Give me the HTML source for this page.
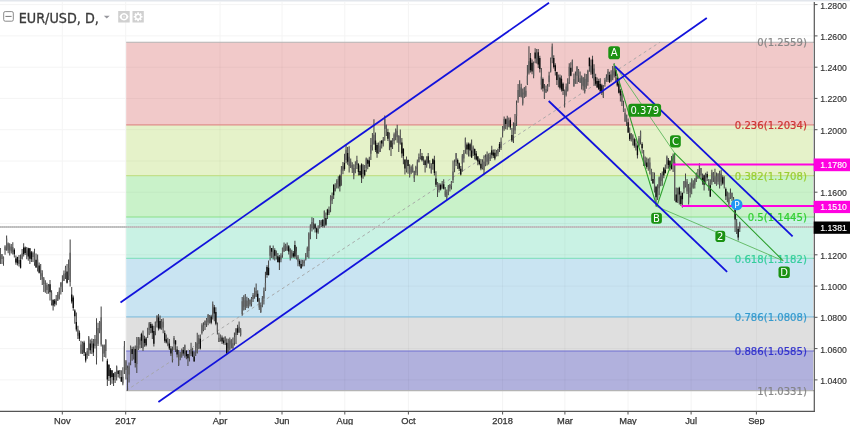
<!DOCTYPE html><html><head><meta charset="utf-8"><title>EUR/USD, D</title>
<style>html,body{margin:0;padding:0;background:#fff}body{width:850px;height:425px;overflow:hidden}svg{display:block;will-change:transform;opacity:.999;filter:blur(.38px)}text{font-family:"Liberation Sans",Arial,sans-serif}.dv{font-family:"DejaVu Sans",Verdana,sans-serif}.dc{font-family:"DejaVu Sans Condensed","DejaVu Sans",sans-serif}</style></head><body>
<svg width="850" height="425" viewBox="0 0 850 425">
<rect width="850" height="425" fill="#fff"/>
<rect x="0" y="0" width="850" height="1.5" fill="#e2e6ec"/>
<g stroke="#f4f4f4" stroke-width="1">
<line x1="62.3" y1="2" x2="62.3" y2="411.3"/>
<line x1="125.7" y1="2" x2="125.7" y2="411.3"/>
<line x1="220" y1="2" x2="220" y2="411.3"/>
<line x1="282" y1="2" x2="282" y2="411.3"/>
<line x1="344.8" y1="2" x2="344.8" y2="411.3"/>
<line x1="408.4" y1="2" x2="408.4" y2="411.3"/>
<line x1="502.6" y1="2" x2="502.6" y2="411.3"/>
<line x1="564.9" y1="2" x2="564.9" y2="411.3"/>
<line x1="628" y1="2" x2="628" y2="411.3"/>
<line x1="691.1" y1="2" x2="691.1" y2="411.3"/>
<line x1="756.4" y1="2" x2="756.4" y2="411.3"/>
<line x1="0" y1="4.6" x2="814.3" y2="4.6"/>
<line x1="0" y1="35.9" x2="814.3" y2="35.9"/>
<line x1="0" y1="67.2" x2="814.3" y2="67.2"/>
<line x1="0" y1="98.4" x2="814.3" y2="98.4"/>
<line x1="0" y1="129.7" x2="814.3" y2="129.7"/>
<line x1="0" y1="161.0" x2="814.3" y2="161.0"/>
<line x1="0" y1="192.2" x2="814.3" y2="192.2"/>
<line x1="0" y1="223.5" x2="814.3" y2="223.5"/>
<line x1="0" y1="254.8" x2="814.3" y2="254.8"/>
<line x1="0" y1="286.1" x2="814.3" y2="286.1"/>
<line x1="0" y1="317.3" x2="814.3" y2="317.3"/>
<line x1="0" y1="348.6" x2="814.3" y2="348.6"/>
<line x1="0" y1="379.9" x2="814.3" y2="379.9"/>
</g>
<rect x="126.2" y="42.2" width="686.8" height="82.6" fill="#f1c9c9"/>
<rect x="126.2" y="124.8" width="686.8" height="50.8" fill="#e5f2c9"/>
<rect x="126.2" y="175.6" width="686.8" height="41.4" fill="#c9f2c9"/>
<rect x="126.2" y="217.0" width="686.8" height="41.3" fill="#c9f2e4"/>
<rect x="126.2" y="258.3" width="686.8" height="58.6" fill="#c9e4f2"/>
<rect x="126.2" y="316.9" width="686.8" height="34.1" fill="#dfdfdf"/>
<rect x="126.2" y="351.0" width="686.8" height="39.6" fill="#b1b1dd"/>
<g stroke="#000" stroke-opacity="0.035" stroke-width="1">
<line x1="220" y1="42.2" x2="220" y2="390.6"/>
<line x1="282" y1="42.2" x2="282" y2="390.6"/>
<line x1="344.8" y1="42.2" x2="344.8" y2="390.6"/>
<line x1="408.4" y1="42.2" x2="408.4" y2="390.6"/>
<line x1="502.6" y1="42.2" x2="502.6" y2="390.6"/>
<line x1="564.9" y1="42.2" x2="564.9" y2="390.6"/>
<line x1="628" y1="42.2" x2="628" y2="390.6"/>
<line x1="691.1" y1="42.2" x2="691.1" y2="390.6"/>
<line x1="756.4" y1="42.2" x2="756.4" y2="390.6"/>
<line x1="126.2" y1="67.2" x2="813.0" y2="67.2"/>
<line x1="126.2" y1="98.4" x2="813.0" y2="98.4"/>
<line x1="126.2" y1="129.7" x2="813.0" y2="129.7"/>
<line x1="126.2" y1="161.0" x2="813.0" y2="161.0"/>
<line x1="126.2" y1="192.2" x2="813.0" y2="192.2"/>
<line x1="126.2" y1="223.5" x2="813.0" y2="223.5"/>
<line x1="126.2" y1="254.8" x2="813.0" y2="254.8"/>
<line x1="126.2" y1="286.1" x2="813.0" y2="286.1"/>
<line x1="126.2" y1="317.3" x2="813.0" y2="317.3"/>
<line x1="126.2" y1="348.6" x2="813.0" y2="348.6"/>
<line x1="126.2" y1="379.9" x2="813.0" y2="379.9"/>
</g>
<line x1="126.2" y1="42.2" x2="814.3" y2="42.2" stroke="#b4b4b4" stroke-width="1.15"/>
<line x1="126.2" y1="124.8" x2="814.3" y2="124.8" stroke="#e08a8a" stroke-width="1.15"/>
<line x1="126.2" y1="175.6" x2="814.3" y2="175.6" stroke="#c3e08a" stroke-width="1.15"/>
<line x1="126.2" y1="217.0" x2="814.3" y2="217.0" stroke="#8ae08a" stroke-width="1.15"/>
<line x1="126.2" y1="258.3" x2="814.3" y2="258.3" stroke="#8ae0c3" stroke-width="1.15"/>
<line x1="126.2" y1="316.9" x2="814.3" y2="316.9" stroke="#8ac3e0" stroke-width="1.15"/>
<line x1="126.2" y1="351.0" x2="814.3" y2="351.0" stroke="#6e6ed2" stroke-width="1.15"/>
<line x1="126.2" y1="390.6" x2="814.3" y2="390.6" stroke="#b4b4b4" stroke-width="1.15"/>
<line x1="126.2" y1="390.5" x2="660" y2="42.2" stroke="#a4a4a4" stroke-width="0.9" stroke-dasharray="3,3"/>
<line x1="0" y1="227" x2="814.3" y2="227" stroke="#c6c6c6" stroke-width="1.8"/>
<line x1="0" y1="227" x2="814.3" y2="227" stroke="#b2b2b2" stroke-width="1.2" stroke-dasharray="1,1"/>
<text x="806.9" y="46.4" font-size="10.1" class="dv" fill="#808080" stroke="#808080" stroke-width="0.22" text-anchor="end" opacity="0.92">0(1.2559)</text>
<text x="806.9" y="129.0" font-size="10.1" class="dv" fill="#cc2828" stroke="#cc2828" stroke-width="0.22" text-anchor="end" opacity="0.92">0.236(1.2034)</text>
<text x="806.9" y="179.8" font-size="10.1" class="dv" fill="#95cc28" stroke="#95cc28" stroke-width="0.22" text-anchor="end" opacity="0.92">0.382(1.1708)</text>
<text x="806.9" y="221.2" font-size="10.1" class="dv" fill="#28cc28" stroke="#28cc28" stroke-width="0.22" text-anchor="end" opacity="0.92">0.5(1.1445)</text>
<text x="806.9" y="262.5" font-size="10.1" class="dv" fill="#28cc95" stroke="#28cc95" stroke-width="0.22" text-anchor="end" opacity="0.92">0.618(1.1182)</text>
<text x="806.9" y="321.1" font-size="10.1" class="dv" fill="#2895cc" stroke="#2895cc" stroke-width="0.22" text-anchor="end" opacity="0.92">0.786(1.0808)</text>
<text x="806.9" y="355.2" font-size="10.1" class="dv" fill="#2828cc" stroke="#2828cc" stroke-width="0.22" text-anchor="end" opacity="0.92">0.886(1.0585)</text>
<text x="806.9" y="394.8" font-size="10.1" class="dv" fill="#808080" stroke="#808080" stroke-width="0.22" text-anchor="end" opacity="0.92">1(1.0331)</text>
<g id="candles">
<path d="M0.40 247.9V263.9M1.95 254.0V264.0M3.50 256.4V265.8M5.05 245.2V254.7M6.60 235.6V250.7M8.15 242.4V253.2M9.70 243.2V255.4M11.25 244.1V253.4M12.80 242.2V254.5M14.35 248.3V257.4M15.90 255.4V264.8M17.45 256.7V265.6M19.00 255.1V266.5M20.55 254.5V268.6M22.10 249.1V259.4M23.65 243.2V256.4M25.20 246.6V255.1M26.75 247.0V259.2M28.30 247.7V260.8M29.85 247.9V263.9M31.40 251.1V261.9M32.95 251.5V262.1M34.50 248.8V265.8M36.05 253.5V267.8M37.60 254.5V271.4M39.15 262.5V273.4M40.70 263.9V279.9M42.25 270.3V285.0M43.80 277.0V292.0M45.35 280.3V292.8M46.90 282.7V294.0M48.45 284.1V293.8M50.00 279.9V300.6M51.55 290.3V305.5M53.10 299.6V310.5M54.65 299.1V306.4M56.20 295.0V305.3M57.75 292.1V300.9M59.30 287.4V299.6M60.85 282.2V294.4M62.40 275.2V292.1M63.95 270.5V281.0M65.50 265.8V278.9M67.05 263.9V283.6M68.60 259.5V280.0M70.15 239.4V286.5M71.70 287.0V303.4M73.25 295.6V310.7M74.80 309.3V323.7M76.35 312.6V331.4M77.90 325.8V339.0M79.45 330.4V341.0M81.00 340.8V354.0M82.55 341.6V354.1M84.10 340.8V355.9M85.65 352.0V362.5M87.20 348.0V358.8M88.75 336.0V355.9M90.30 339.6V353.8M91.85 338.6V354.0M93.40 339.0V356.0M94.95 335.0V348.4M96.50 318.2V364.4M98.05 322.7V346.1M99.60 321.0V333.3M101.15 306.6V346.5M102.70 344.6V361.5M104.25 344.6V357.1M105.80 339.0V357.8M107.35 358.8V386.0M108.90 364.1V380.9M110.45 368.0V385.0M112.00 370.2V383.7M113.55 373.0V386.0M115.10 371.8V382.9M116.65 365.4V380.5M118.20 370.2V377.5M119.75 370.0V378.6M121.30 370.2V382.0M122.85 367.3V385.2M124.40 341.0V374.0M125.95 359.9V379.6M127.50 365.4V390.8M129.05 362.6V382.4M130.60 345.5V365.3M132.15 346.7V360.7M133.70 346.5V359.6M135.25 345.6V367.6M136.80 337.0V373.0M138.35 337.0V350.0M139.90 337.3V348.4M141.45 332.7V348.0M143.00 330.5V351.0M144.55 335.8V346.7M146.10 337.0V346.5M147.65 327.8V338.0M149.20 322.0V335.0M150.75 322.0V333.3M152.30 323.8V339.1M153.85 325.8V346.5M155.40 321.5V335.3M156.95 315.4V327.6M158.50 314.0V330.5M160.05 315.6V329.6M161.60 319.0V329.8M163.15 318.2V333.3M164.70 330.5V342.7M166.25 334.5V343.6M167.80 337.7V346.3M169.35 339.0V350.0M170.90 346.1V356.0M172.45 346.5V362.5M174.00 336.0V350.0M175.55 340.0V351.9M177.10 346.2V357.3M178.65 350.0V366.0M180.20 352.0V360.2M181.75 348.4V357.8M183.30 347.0V355.7M184.85 344.6V357.8M186.40 350.0V359.2M187.95 354.0V366.0M189.50 350.0V361.4M191.05 342.7V355.9M192.60 348.0V357.0M194.15 351.5V361.5M195.70 342.1V356.0M197.25 332.7V353.4M198.80 334.8V349.2M200.35 334.6V349.6M201.90 323.3V334.6M203.45 322.3V331.3M205.00 320.5V330.0M206.55 318.1V327.1M208.10 313.9V325.2M209.65 315.0V323.5M211.20 314.8V324.2M212.75 301.6V319.5M214.30 304.9V321.3M215.85 307.3V325.2M217.40 322.4V334.6M218.95 332.7V342.1M220.50 334.6V341.6M222.05 335.5V344.0M223.60 337.4V344.4M225.15 336.5V345.0M226.70 338.4V354.4M228.25 338.7V352.4M229.80 337.4V350.6M231.35 339.3V348.5M232.90 337.4V348.7M234.45 332.4V345.4M236.00 328.0V344.0M237.55 324.8V335.0M239.10 321.4V332.7M240.65 328.0V336.5M242.20 297.0V315.8M243.75 295.2V310.4M245.30 294.0V310.0M246.85 296.7V308.0M248.40 297.9V308.2M249.95 299.3V306.5M251.50 297.0V306.4M253.05 293.0V301.9M254.60 287.5V298.8M256.15 283.4V297.0M257.70 290.2V301.9M259.25 297.9V310.0M260.80 302.6V313.0M262.35 296.1V307.2M263.90 287.5V304.5M265.45 271.8V291.0M267.00 265.2V277.7M268.55 260.5V275.6M270.10 245.5V260.5M271.65 247.9V257.9M273.20 245.5V259.6M274.75 248.3V260.5M276.30 250.6V259.6M277.85 253.0V262.4M279.40 254.9V270.0M280.95 253.2V262.3M282.50 247.4V257.7M284.05 242.6V252.0M285.60 243.7V251.1M287.15 242.6V251.1M288.70 244.9V254.6M290.25 248.3V260.5M291.80 249.8V258.2M293.35 251.1V257.7M294.90 240.8V258.6M296.45 246.7V259.5M298.00 254.9V266.2M299.55 259.3V266.6M301.10 259.6V269.0M302.65 259.8V266.4M304.20 259.6V266.2M305.75 253.0V260.5M307.30 246.5V257.3M308.85 232.3V258.6M310.40 224.3V239.3M311.95 217.2V231.4M313.50 218.2V229.5M315.05 223.3V232.6M316.60 227.6V238.9M318.15 225.2V233.7M319.70 220.0V228.5M321.25 220.0V227.0M322.80 219.1V227.6M324.35 210.6V227.6M325.90 212.4V226.0M327.45 208.8V219.1M329.00 206.5V214.9M330.55 195.2V212.2M332.10 192.5V204.0M333.65 184.0V199.0M335.20 183.3V191.6M336.75 179.2V188.6M338.30 176.2V188.4M339.85 174.5V191.5M341.40 166.0V185.8M342.95 161.9V174.2M344.50 153.8V170.8M346.05 144.4V163.2M347.60 147.1V164.7M349.15 146.3V172.6M350.70 158.5V168.0M352.25 162.3V172.9M353.80 164.2V179.2M355.35 161.3V173.3M356.90 155.7V168.9M358.45 163.2V175.5M360.00 165.3V175.3M361.55 163.2V183.0M363.10 164.3V178.7M364.65 165.0V176.4M366.20 157.6V171.7M367.75 158.6V169.3M369.30 156.8V167.0M370.85 138.0V160.0M372.40 133.1V150.6M373.95 119.2V144.6M375.50 132.4V152.1M377.05 142.7V157.8M378.60 142.5V153.8M380.15 140.8V152.1M381.70 140.3V148.6M383.25 137.0V146.5M384.80 115.4V140.8M386.35 124.8V136.1M387.90 128.8V141.0M389.45 132.4V150.2M391.00 139.9V155.9M392.55 138.2V148.9M394.10 132.4V144.6M395.65 128.5V140.2M397.20 124.8V142.7M398.75 135.2V152.1M400.30 129.5V144.6M401.85 138.0V157.8M403.40 148.3V164.2M404.95 159.5V174.5M406.50 156.6V172.6M408.05 159.6V173.7M409.60 164.2V177.4M411.15 165.4V174.2M412.70 164.2V172.6M414.25 170.8V182.0M415.80 165.7V175.2M417.35 159.5V175.5M418.90 153.5V162.3M420.45 149.0V159.5M422.00 152.9V161.4M423.55 156.3V165.1M425.10 159.5V172.6M426.65 156.2V167.8M428.20 152.9V164.0M429.75 160.2V168.4M431.30 163.2V173.6M432.85 158.5V169.8M434.40 155.7V175.5M435.95 171.2V187.0M437.50 182.0V197.0M439.05 183.0V192.4M440.60 183.5V190.4M442.15 180.9V188.7M443.70 179.2V189.6M445.25 186.9V196.9M446.80 189.6V200.0M448.35 184.9V195.2M449.90 184.0V191.4M451.45 181.0V189.6M453.00 160.4V183.0M454.55 159.5V172.3M456.10 152.9V166.0M457.65 158.5V168.9M459.20 162.6V170.9M460.75 166.0V175.5M462.30 154.0V171.7M463.85 150.1V162.4M465.40 137.4V153.8M466.95 142.6V154.4M468.50 142.5V156.5M470.05 142.8V156.6M471.60 139.4V158.0M473.15 145.4V155.9M474.70 148.4V159.6M476.25 150.9V160.6M477.80 155.9V165.3M479.35 158.5V165.3M480.90 159.0V170.3M482.45 159.2V169.6M484.00 155.2V174.0M485.55 154.2V166.3M487.10 151.5V165.6M488.65 153.4V164.6M490.20 152.7V161.0M491.75 145.8V158.4M493.30 149.5V157.9M494.85 149.6V160.3M496.40 149.9V156.6M497.95 148.6V156.2M499.50 141.9V151.9M501.05 137.4V150.0M502.60 126.0V137.4M504.15 116.6V130.8M505.70 118.5V129.3M507.25 115.7V129.8M508.80 117.5V127.3M510.35 117.6V129.8M511.90 128.0V142.0M513.45 122.3V143.0M515.00 113.9V134.0M516.55 100.6V126.0M518.10 84.0V102.8M519.65 80.2V97.1M521.20 83.7V97.6M522.75 88.6V105.6M524.30 86.9V97.9M525.85 85.8V97.1M527.40 65.1V84.9M528.95 46.3V74.5M530.50 52.9V72.6M532.05 59.6V74.3M533.60 61.4V78.3M535.15 48.2V63.2M536.70 49.0V63.5M538.25 49.0V68.0M539.80 55.7V72.6M541.35 68.0V89.6M542.90 77.6V91.4M544.45 84.0V99.0M546.00 85.5V92.9M547.55 84.0V91.5M549.10 71.7V86.8M550.65 57.6V72.6M552.20 43.5V63.2M553.75 55.2V68.4M555.30 63.2V75.5M556.85 71.7V84.9M558.40 74.7V87.2M559.95 74.5V89.6M561.50 75.5V91.5M563.05 82.6V94.9M564.60 89.6V107.5M566.15 83.6V96.4M567.70 78.3V91.5M569.25 63.2V84.0M570.80 62.3V76.2M572.35 59.5V71.7M573.90 73.6V86.8M575.45 71.5V83.8M577.00 66.0V84.0M578.55 68.9V82.0M580.10 71.4V83.0M581.65 75.5V89.6M583.20 77.0V90.6M584.75 73.6V93.4M586.30 74.0V88.8M587.85 69.8V85.8M589.40 57.6V71.7M590.95 59.6V74.7M592.50 55.7V78.3M594.05 64.2V85.8M595.60 73.8V85.7M597.15 77.4V87.7M598.70 78.7V89.9M600.25 78.3V91.5M601.80 83.8V95.0M603.35 84.9V98.0M604.90 78.3V86.8M606.45 74.2V81.8M608.00 68.9V82.0M609.55 71.7V83.0M611.10 70.3V81.7M612.65 66.0V80.2M614.20 63.2V77.4M615.75 68.0V82.0M617.30 74.2V86.7M618.85 79.2V93.4M620.40 89.1V101.6M621.95 91.0V106.0M623.50 100.8V112.0M625.05 108.5V122.0M626.60 114.7V126.0M628.15 118.5V133.0M629.70 127.6V141.0M631.25 133.0V141.4M632.80 134.2V145.5M634.35 137.7V147.7M635.90 139.0V150.5M637.45 144.6V158.5M639.00 136.0V146.5M640.55 130.5V144.6M642.10 142.2V153.6M643.65 150.0V166.0M645.20 156.6V165.8M646.75 157.5V168.8M648.30 158.4V170.7M649.85 157.5V174.5M651.40 168.8V181.0M652.95 172.0V183.9M654.50 172.6V192.4M656.05 185.8V206.5M657.60 184.3V199.9M659.15 176.4V195.2M660.70 173.1V186.3M662.25 171.6V185.8M663.80 167.0V178.2M665.35 164.4V173.3M666.90 155.6V168.8M668.45 158.0V168.8M670.00 160.4V170.7M671.55 156.1V169.3M673.10 153.5V172.0M674.65 152.8V200.8M676.20 187.6V202.7M677.75 187.7V202.9M679.30 186.7V204.6M680.85 191.2V205.7M682.40 192.4V207.4M683.95 181.0V193.3M685.50 173.5V187.6M687.05 179.0V193.9M688.60 183.9V204.6M690.15 182.5V197.4M691.70 178.2V194.2M693.25 180.3V188.8M694.80 178.2V188.6M696.35 172.6V182.0M697.90 169.0V178.7M699.45 163.2V178.2M701.00 167.9V179.2M702.55 173.4V184.7M704.10 174.5V190.5M705.65 172.8V184.3M707.20 171.6V181.0M708.75 179.0V190.8M710.30 179.2V197.0M711.85 169.8V184.8M713.40 172.1V182.0M714.95 168.8V183.9M716.50 172.6V185.8M718.05 173.1V184.5M719.60 170.7V188.6M721.15 169.8V185.8M722.70 175.3V184.7M724.25 176.4V188.6M725.80 187.6V199.9M727.35 191.4V202.2M728.90 192.4V206.5M730.45 188.6V198.9M732.00 192.5V201.0M733.55 197.0V206.5M735.10 207.6V232.0M736.65 219.0V234.0M738.20 226.5V240.6M739.75 221.8V232.0" stroke="#484848" stroke-width="1.05" fill="none"/>
<path d="M0.40 249.2v7.4M1.95 254.3v4.8M3.50 256.7v4.7M5.05 246.5v3.8M6.60 238.4v10.3M8.15 243.5v7.0M9.70 245.5v4.8M11.25 246.8v4.4M12.80 247.0v5.2M19.00 259.9v4.2M22.10 253.4v5.3M26.75 250.6v4.4M32.95 252.7v4.3M34.50 253.6v8.8M37.60 259.5v9.6M40.70 270.1v6.2M42.25 273.3v6.0M43.80 278.5v5.3M45.35 282.9v8.2M46.90 284.9v5.0M48.45 286.4v5.0M51.55 292.8v10.4M56.20 298.7v5.5M57.75 294.4v6.1M59.30 290.7v7.8M60.85 282.4v4.4M62.40 281.7v7.4M63.95 273.5v7.3M65.50 267.5v5.6M68.60 267.9v7.8M70.15 252.7v29.4M77.90 329.6v6.2M81.00 344.6v8.6M82.55 343.1v6.9M87.20 351.0v3.9M88.75 337.3v12.5M91.85 341.0v6.7M94.95 339.1v6.8M96.50 333.3v24.5M98.05 327.9v15.9M99.60 322.0v8.4M101.15 317.3v27.1M102.70 345.2v8.5M104.25 345.2v8.3M105.80 340.1v10.9M115.10 372.1v4.9M116.65 366.5v6.7M119.75 370.3v5.1M122.85 376.8v6.8M124.40 346.2v21.5M125.95 361.3v8.8M127.50 367.9v9.9M129.05 366.2v8.3M130.60 347.7v12.2M133.70 347.6v7.1M136.80 346.3v17.6M138.35 338.4v9.0M139.90 339.2v5.5M143.00 335.2v13.4M147.65 330.3v3.6M149.20 323.2v6.8M155.40 322.1v9.6M156.95 315.6v7.0M161.60 322.1v6.4M163.15 321.5v6.0M167.80 341.7v3.2M172.45 351.0v9.1M174.00 338.1v5.6M178.65 358.7v6.3M180.20 354.4v2.9M181.75 349.7v6.5M184.85 345.2v9.0M189.50 351.9v5.4M191.05 349.1v4.6M195.70 343.0v5.1M197.25 343.4v9.3M198.80 338.0v6.0M201.90 325.3v7.7M203.45 325.6v4.5M205.00 320.8v4.3M206.55 319.5v4.2M208.10 314.8v7.8M209.65 315.7v4.2M212.75 304.0v12.5M217.40 324.5v6.5M218.95 337.7v4.2M220.50 335.1v4.6M225.15 336.5v4.7M228.25 343.0v5.5M229.80 340.5v9.0M231.35 339.4v5.0M232.90 343.3v4.9M234.45 337.0v5.7M236.00 328.7v6.2M239.10 326.7v5.8M240.65 329.4v5.6M242.20 301.2v12.9M243.75 297.8v8.9M245.30 300.2v9.3M246.85 300.6v5.6M248.40 300.7v6.5M249.95 299.9v4.6M251.50 298.1v5.8M253.05 295.1v3.9M254.60 288.0v7.7M256.15 291.0v5.8M259.25 299.2v8.2M260.80 305.1v7.0M262.35 298.0v5.3M263.90 290.8v7.6M265.45 283.0v7.6M270.10 245.7v10.0M273.20 251.4v6.2M276.30 251.9v4.1M280.95 255.4v4.0M282.50 248.0v7.0M284.05 245.6v5.7M285.60 245.2v3.4M287.15 246.3v3.6M290.25 249.3v8.5M291.80 251.3v5.1M296.45 251.6v6.2M298.00 256.5v4.9M302.65 261.8v4.3M304.20 260.8v2.4M305.75 254.4v5.2M307.30 247.9v5.5M308.85 233.2v17.9M310.40 225.4v7.2M311.95 222.0v6.2M313.50 218.3v4.8M318.15 228.7v3.5M319.70 221.4v3.8M321.25 221.6v3.3M324.35 210.7v7.2M329.00 209.7v3.2M330.55 196.4v9.0M332.10 195.9v4.5M335.20 188.1v3.0M336.75 181.1v6.3M338.30 179.0v5.2M341.40 169.6v10.5M342.95 166.3v4.5M346.05 149.8v10.2M349.15 156.7v9.4M350.70 161.3v5.9M352.25 165.0v4.2M353.80 168.0v7.6M355.35 165.0v7.3M356.90 159.9v4.9M363.10 165.2v8.9M366.20 158.6v9.5M370.85 145.1v8.6M372.40 137.7v9.5M373.95 134.7v9.8M378.60 148.4v4.1M380.15 145.5v6.5M383.25 139.4v4.8M384.80 118.9v10.1M386.35 124.8v4.0M389.45 133.6v9.2M392.55 138.2v4.7M394.10 134.3v6.7M395.65 129.6v7.1M397.20 130.8v6.5M398.75 135.8v7.3M400.30 136.0v8.2M406.50 162.4v8.2M409.60 168.7v7.8M411.15 167.1v5.5M412.70 167.6v4.8M414.25 170.9v7.4M415.80 166.9v5.8M417.35 161.5v7.4M418.90 157.1v5.2M420.45 151.6v6.8M423.55 161.3v3.3M426.65 161.3v4.2M429.75 162.9v5.2M431.30 166.5v6.8M437.50 182.2v7.5M439.05 184.4v5.6M442.15 183.8v3.6M445.25 191.3v4.2M446.80 192.0v5.4M448.35 186.6v5.4M449.90 184.9v3.3M451.45 181.4v4.5M453.00 171.5v8.5M454.55 162.2v6.1M456.10 153.3v8.7M462.30 155.5v8.2M463.85 153.3v5.1M465.40 138.3v9.1M473.15 147.2v6.4M482.45 161.9v6.2M484.00 161.6v8.6M485.55 157.3v7.2M487.10 154.7v7.0M488.65 157.2v5.5M490.20 154.8v4.0M496.40 152.5v2.8M497.95 149.0v4.7M501.05 141.8v6.3M502.60 127.4v5.0M504.15 119.0v9.6M507.25 118.5v8.1M508.80 120.8v4.7M513.45 126.6v9.2M515.00 123.3v7.1M516.55 104.9v11.1M518.10 90.0v9.4M519.65 88.4v8.1M521.20 87.3v9.3M522.75 92.5v10.9M524.30 88.1v6.3M525.85 90.8v4.9M527.40 75.8v8.0M528.95 61.2v11.5M533.60 64.6v11.1M536.70 52.7v7.6M541.35 76.6v8.1M544.45 90.5v7.8M546.00 88.9v3.5M547.55 85.9v3.9M549.10 75.5v6.4M550.65 63.3v8.2M552.20 46.4v12.6M558.40 74.7v5.7M564.60 90.3v11.0M566.15 86.4v8.6M567.70 82.1v8.4M569.25 66.7v9.2M572.35 60.4v4.4M573.90 79.0v7.3M575.45 75.3v8.3M577.00 66.9v8.9M578.55 70.0v5.6M580.10 78.2v4.6M581.65 76.1v9.2M583.20 78.0v8.2M584.75 79.0v12.3M586.30 78.5v8.4M587.85 71.1v10.8M590.95 65.6v6.9M594.05 68.5v11.9M603.35 88.5v8.7M604.90 80.3v3.8M606.45 78.2v2.7M608.00 71.5v8.6M611.10 74.4v6.2M612.65 71.1v8.7M614.20 67.4v8.0M621.95 93.7v8.2M623.50 107.9v4.1M625.05 113.1v7.7M626.60 114.8v6.0M631.25 133.7v5.8M632.80 135.4v4.7M635.90 143.3v4.3M639.00 138.2v7.2M640.55 131.6v7.1M643.65 154.5v10.7M645.20 160.5v5.3M648.30 158.9v7.6M649.85 162.5v6.7M651.40 169.8v5.3M654.50 178.7v12.9M657.60 191.2v7.3M659.15 177.6v10.7M660.70 174.0v7.1M662.25 174.9v6.3M666.90 156.8v7.7M673.10 154.9v8.7M674.65 161.9v30.8M677.75 191.8v9.4M683.95 181.3v7.4M685.50 179.8v6.6M687.05 181.4v10.0M688.60 194.0v8.6M690.15 187.5v5.2M691.70 179.1v8.5M693.25 183.5v3.9M694.80 178.4v6.4M696.35 174.1v6.4M697.90 175.0v3.5M699.45 164.1v6.2M701.00 168.0v7.2M705.65 175.5v6.0M708.75 183.0v6.5M711.85 172.6v9.7M713.40 173.3v4.6M714.95 176.2v7.6M716.50 176.2v8.8M718.05 174.0v7.7M719.60 173.5v10.2M721.15 173.8v8.0M724.25 176.5v8.0M727.35 193.6v5.8M728.90 197.4v6.4M730.45 193.0v5.7M732.00 193.1v4.6M733.55 198.7v3.8M736.65 222.7v8.5M739.75 223.3v5.2" stroke="#5e5e5e" stroke-width="1.2" fill="none"/>
<path d="M14.35 249.7v4.6M15.90 258.4v4.1M17.45 257.0v6.2M20.55 260.0v7.8M23.65 247.4v6.8M25.20 247.4v5.5M28.30 248.3v8.1M29.85 248.3v10.5M31.40 252.2v7.0M36.05 259.7v7.8M39.15 265.5v7.2M50.00 284.3v8.0M53.10 299.7v5.9M54.65 300.6v3.2M67.05 271.6v11.2M71.70 294.6v6.8M73.25 297.5v10.4M74.80 310.6v5.7M76.35 321.9v7.5M79.45 332.7v6.1M84.10 342.6v10.1M85.65 353.5v7.0M90.30 343.6v6.6M93.40 343.5v9.0M107.35 360.7v18.7M108.90 365.1v10.8M110.45 369.8v8.0M112.00 370.3v6.8M113.55 373.4v6.9M118.20 370.8v3.2M121.30 377.1v4.4M132.15 348.9v5.0M135.25 349.1v14.0M141.45 334.1v6.7M144.55 338.7v4.4M146.10 338.6v6.6M150.75 323.9v4.0M152.30 325.8v7.0M153.85 331.1v12.7M158.50 317.5v10.9M160.05 321.1v7.4M164.70 332.9v7.8M166.25 339.2v3.2M169.35 343.5v4.9M170.90 348.6v4.8M175.55 340.4v4.2M177.10 349.4v5.0M183.30 349.9v3.7M186.40 350.9v5.4M187.95 354.0v4.3M192.60 351.2v5.4M194.15 356.6v4.9M200.35 338.7v9.9M211.20 316.4v6.3M214.30 307.3v6.2M215.85 311.9v11.8M222.05 337.4v4.2M223.60 340.6v2.5M226.70 342.7v10.8M237.55 328.3v4.4M257.70 293.7v7.8M267.00 267.1v8.0M268.55 267.7v7.3M271.65 248.1v3.6M274.75 250.1v5.7M277.85 256.3v5.8M279.40 257.2v5.4M288.70 246.3v5.3M293.35 253.2v3.3M294.90 245.0v11.5M299.55 260.9v3.4M301.10 263.9v4.1M315.05 224.3v4.3M316.60 228.3v4.2M322.80 220.0v5.9M325.90 218.0v6.8M327.45 209.6v5.3M333.65 184.9v10.3M339.85 175.6v10.9M344.50 162.9v6.2M347.60 152.9v8.8M358.45 163.7v8.4M360.00 171.0v4.2M361.55 164.3v13.3M364.65 170.1v5.1M367.75 159.9v3.9M369.30 160.6v6.0M375.50 140.4v9.6M377.05 145.1v8.3M381.70 140.5v2.9M387.90 132.0v6.8M391.00 140.8v6.4M401.85 142.4v11.1M403.40 148.7v7.3M404.95 159.5v9.0M408.05 159.9v6.1M422.00 156.0v4.3M425.10 160.4v4.7M428.20 156.2v6.6M432.85 159.2v4.8M434.40 160.3v12.6M435.95 178.6v6.1M440.60 185.0v4.5M443.70 184.3v4.4M457.65 159.9v3.7M459.20 163.3v5.4M460.75 168.8v5.8M466.95 144.6v4.9M468.50 143.8v5.7M470.05 144.2v6.4M471.60 150.4v7.2M474.70 148.9v6.4M476.25 153.4v6.1M477.80 156.6v4.8M479.35 160.5v3.4M480.90 163.7v4.9M491.75 150.2v4.6M493.30 152.5v3.2M494.85 152.8v5.7M499.50 144.1v4.5M505.70 119.3v4.6M510.35 119.7v7.8M511.90 135.1v5.5M530.50 57.9v12.3M532.05 62.8v8.7M535.15 52.6v6.0M538.25 52.2v12.2M539.80 58.0v10.9M542.90 79.1v9.3M553.75 57.9v9.1M555.30 65.2v5.7M556.85 71.9v8.2M559.95 77.5v10.2M561.50 78.7v10.7M563.05 83.7v7.3M570.80 67.8v8.0M589.40 57.7v8.5M592.50 59.5v14.7M595.60 76.9v6.9M597.15 81.0v6.4M598.70 81.1v7.8M600.25 84.0v7.4M601.80 85.3v7.4M609.55 74.9v7.3M615.75 70.1v5.9M617.30 77.7v7.9M618.85 83.4v9.4M620.40 90.4v5.2M628.15 122.3v10.1M629.70 133.4v5.9M634.35 139.2v6.6M637.45 145.7v9.5M642.10 144.1v4.1M646.75 162.6v4.5M652.95 179.0v4.3M656.05 186.8v10.5M663.80 168.3v7.2M665.35 169.7v3.5M668.45 160.3v4.6M670.00 160.7v6.9M671.55 163.2v6.0M676.20 194.5v7.6M679.30 187.7v6.8M680.85 195.7v8.2M682.40 193.0v6.3M702.55 177.7v4.0M704.10 175.2v9.5M707.20 173.9v3.7M710.30 185.2v11.4M722.70 177.2v6.4M725.80 189.0v7.2M735.10 208.8v10.6M738.20 229.1v8.4" stroke="#080808" stroke-width="1.3" fill="none"/>
</g>
<line x1="672.9" y1="164.5" x2="814.3" y2="164.5" stroke="#ff00e0" stroke-width="2"/>
<line x1="681.7" y1="206" x2="814.3" y2="206" stroke="#ff00e0" stroke-width="2"/>
<line x1="613.9" y1="63.9" x2="656.8" y2="206.5" stroke="#2a9e2a" stroke-width="1.05" />
<line x1="656.8" y1="206.5" x2="674.7" y2="153.1" stroke="#2a9e2a" stroke-width="1.05" />
<line x1="674.7" y1="153.1" x2="783.2" y2="260.8" stroke="#2a9e2a" stroke-width="1.05" />
<line x1="613.9" y1="63.9" x2="674.7" y2="153.1" stroke="#55b455" stroke-width="0.85" />
<line x1="656.8" y1="206.5" x2="783.2" y2="260.8" stroke="#55b455" stroke-width="0.85" />
<line x1="120.5" y1="302.5" x2="549" y2="2.8" stroke="#1212dc" stroke-width="1.8" stroke-linecap="butt"/>
<line x1="158.4" y1="402.1" x2="706.8" y2="18" stroke="#1212dc" stroke-width="1.8" />
<line x1="615.0" y1="66.3" x2="792.6" y2="236.4" stroke="#1212dc" stroke-width="1.8" />
<line x1="548.7" y1="101" x2="727.1" y2="271.8" stroke="#1212dc" stroke-width="1.8" />
<rect x="608.3" y="46.2" width="11.7" height="13.0" rx="2.8" fill="#1b9212"/>
<text x="614.1" y="56.4" font-size="10" class="dv" fill="#fff" text-anchor="middle">A</text>
<rect x="651.2" y="212.7" width="10.7" height="11.1" rx="2.8" fill="#1b9212"/>
<text x="656.5" y="221.9" font-size="10" class="dv" fill="#fff" text-anchor="middle">B</text>
<rect x="670" y="135.2" width="10.8" height="12.2" rx="2.8" fill="#1b9212"/>
<text x="675.4" y="145.0" font-size="10" class="dv" fill="#fff" text-anchor="middle">C</text>
<rect x="778.5" y="266.5" width="11.3" height="11.6" rx="2.8" fill="#1b9212"/>
<text x="784.1" y="275.9" font-size="10" class="dv" fill="#fff" text-anchor="middle">D</text>
<rect x="715.4" y="230.7" width="9.8" height="11.3" rx="2.8" fill="#1b9212"/>
<text x="720.3" y="240.0" font-size="10" class="dv" fill="#fff" text-anchor="middle">2</text>
<rect x="628.3" y="103.8" width="32.8" height="12.9" rx="2.8" fill="#1b9212"/>
<text x="644.7" y="113.9" font-size="10" class="dv" fill="#fff" text-anchor="middle">0.379</text>
<circle cx="736.8" cy="204.6" r="5.7" fill="#2196f3"/>
<text x="736.9" y="208" font-size="9" class="dv" fill="#fff" text-anchor="middle">P</text>
<rect x="814.3" y="1.5" width="35.700000000000045" height="425" fill="#fff"/>
<rect x="0" y="411.3" width="850" height="13.699999999999989" fill="#fff"/>
<line x1="814.3" y1="2" x2="814.3" y2="411.90000000000003" stroke="#555" stroke-width="1.2"/>
<line x1="0" y1="411.3" x2="814.9" y2="411.3" stroke="#555" stroke-width="1.2"/>
<line x1="814.3" y1="4.6" x2="817.5" y2="4.6" stroke="#555" stroke-width="1"/>
<text x="820.3" y="8.5" font-size="9" fill="#333" stroke="#333" stroke-width="0.15" textLength="26.5" lengthAdjust="spacingAndGlyphs">1.2800</text>
<line x1="814.3" y1="35.9" x2="817.5" y2="35.9" stroke="#555" stroke-width="1"/>
<text x="820.3" y="39.8" font-size="9" fill="#333" stroke="#333" stroke-width="0.15" textLength="26.5" lengthAdjust="spacingAndGlyphs">1.2600</text>
<line x1="814.3" y1="67.2" x2="817.5" y2="67.2" stroke="#555" stroke-width="1"/>
<text x="820.3" y="71.1" font-size="9" fill="#333" stroke="#333" stroke-width="0.15" textLength="26.5" lengthAdjust="spacingAndGlyphs">1.2400</text>
<line x1="814.3" y1="98.4" x2="817.5" y2="98.4" stroke="#555" stroke-width="1"/>
<text x="820.3" y="102.3" font-size="9" fill="#333" stroke="#333" stroke-width="0.15" textLength="26.5" lengthAdjust="spacingAndGlyphs">1.2200</text>
<line x1="814.3" y1="129.7" x2="817.5" y2="129.7" stroke="#555" stroke-width="1"/>
<text x="820.3" y="133.6" font-size="9" fill="#333" stroke="#333" stroke-width="0.15" textLength="26.5" lengthAdjust="spacingAndGlyphs">1.2000</text>
<line x1="814.3" y1="161.0" x2="817.5" y2="161.0" stroke="#555" stroke-width="1"/>
<text x="820.3" y="164.9" font-size="9" fill="#333" stroke="#333" stroke-width="0.15" textLength="26.5" lengthAdjust="spacingAndGlyphs">1.1800</text>
<line x1="814.3" y1="192.2" x2="817.5" y2="192.2" stroke="#555" stroke-width="1"/>
<text x="820.3" y="196.1" font-size="9" fill="#333" stroke="#333" stroke-width="0.15" textLength="26.5" lengthAdjust="spacingAndGlyphs">1.1600</text>
<line x1="814.3" y1="223.5" x2="817.5" y2="223.5" stroke="#555" stroke-width="1"/>
<line x1="814.3" y1="254.8" x2="817.5" y2="254.8" stroke="#555" stroke-width="1"/>
<text x="820.3" y="258.7" font-size="9" fill="#333" stroke="#333" stroke-width="0.15" textLength="26.5" lengthAdjust="spacingAndGlyphs">1.1200</text>
<line x1="814.3" y1="286.1" x2="817.5" y2="286.1" stroke="#555" stroke-width="1"/>
<text x="820.3" y="290.0" font-size="9" fill="#333" stroke="#333" stroke-width="0.15" textLength="26.5" lengthAdjust="spacingAndGlyphs">1.1000</text>
<line x1="814.3" y1="317.3" x2="817.5" y2="317.3" stroke="#555" stroke-width="1"/>
<text x="820.3" y="321.2" font-size="9" fill="#333" stroke="#333" stroke-width="0.15" textLength="26.5" lengthAdjust="spacingAndGlyphs">1.0800</text>
<line x1="814.3" y1="348.6" x2="817.5" y2="348.6" stroke="#555" stroke-width="1"/>
<text x="820.3" y="352.5" font-size="9" fill="#333" stroke="#333" stroke-width="0.15" textLength="26.5" lengthAdjust="spacingAndGlyphs">1.0600</text>
<line x1="814.3" y1="379.9" x2="817.5" y2="379.9" stroke="#555" stroke-width="1"/>
<text x="820.3" y="383.8" font-size="9" fill="#333" stroke="#333" stroke-width="0.15" textLength="26.5" lengthAdjust="spacingAndGlyphs">1.0400</text>
<line x1="62.3" y1="411.3" x2="62.3" y2="414.5" stroke="#555" stroke-width="1"/>
<text x="62.3" y="423.5" font-size="9.3" fill="#333" stroke="#333" stroke-width="0.25" text-anchor="middle">Nov</text>
<line x1="125.7" y1="411.3" x2="125.7" y2="414.5" stroke="#555" stroke-width="1"/>
<text x="125.7" y="423.5" font-size="9.3" fill="#333" stroke="#333" stroke-width="0.25" text-anchor="middle">2017</text>
<line x1="220" y1="411.3" x2="220" y2="414.5" stroke="#555" stroke-width="1"/>
<text x="220" y="423.5" font-size="9.3" fill="#333" stroke="#333" stroke-width="0.25" text-anchor="middle">Apr</text>
<line x1="282" y1="411.3" x2="282" y2="414.5" stroke="#555" stroke-width="1"/>
<text x="282" y="423.5" font-size="9.3" fill="#333" stroke="#333" stroke-width="0.25" text-anchor="middle">Jun</text>
<line x1="344.8" y1="411.3" x2="344.8" y2="414.5" stroke="#555" stroke-width="1"/>
<text x="344.8" y="423.5" font-size="9.3" fill="#333" stroke="#333" stroke-width="0.25" text-anchor="middle">Aug</text>
<line x1="408.4" y1="411.3" x2="408.4" y2="414.5" stroke="#555" stroke-width="1"/>
<text x="408.4" y="423.5" font-size="9.3" fill="#333" stroke="#333" stroke-width="0.25" text-anchor="middle">Oct</text>
<line x1="502.6" y1="411.3" x2="502.6" y2="414.5" stroke="#555" stroke-width="1"/>
<text x="502.6" y="423.5" font-size="9.3" fill="#333" stroke="#333" stroke-width="0.25" text-anchor="middle">2018</text>
<line x1="564.9" y1="411.3" x2="564.9" y2="414.5" stroke="#555" stroke-width="1"/>
<text x="564.9" y="423.5" font-size="9.3" fill="#333" stroke="#333" stroke-width="0.25" text-anchor="middle">Mar</text>
<line x1="628" y1="411.3" x2="628" y2="414.5" stroke="#555" stroke-width="1"/>
<text x="628" y="423.5" font-size="9.3" fill="#333" stroke="#333" stroke-width="0.25" text-anchor="middle">May</text>
<line x1="691.1" y1="411.3" x2="691.1" y2="414.5" stroke="#555" stroke-width="1"/>
<text x="691.1" y="423.5" font-size="9.3" fill="#333" stroke="#333" stroke-width="0.25" text-anchor="middle">Jul</text>
<line x1="756.4" y1="411.3" x2="756.4" y2="414.5" stroke="#555" stroke-width="1"/>
<text x="756.4" y="423.5" font-size="9.3" fill="#333" stroke="#333" stroke-width="0.25" text-anchor="middle">Sep</text>
<rect x="813.6999999999999" y="158.5" width="36.30000000000005" height="12.7" fill="#ff00e0"/>
<text x="820.3" y="168.2" font-size="9" fill="#fff" stroke="#fff" stroke-width="0.15" textLength="26.5" lengthAdjust="spacingAndGlyphs">1.1780</text>
<rect x="813.6999999999999" y="200.8" width="36.30000000000005" height="12.3" fill="#ff00e0"/>
<text x="820.3" y="210.3" font-size="9" fill="#fff" stroke="#fff" stroke-width="0.15" textLength="26.5" lengthAdjust="spacingAndGlyphs">1.1510</text>
<rect x="813.6999999999999" y="221.5" width="36.30000000000005" height="12.3" fill="#000"/>
<text x="820.3" y="231.1" font-size="9" fill="#fff" stroke="#fff" stroke-width="0.15" textLength="26.5" lengthAdjust="spacingAndGlyphs">1.1381</text>
<rect x="3.7" y="11.6" width="9.6" height="9.6" rx="1.5" fill="#fff" stroke="#8a8a8a" stroke-width="1"/>
<line x1="5.4" y1="16.4" x2="11.6" y2="16.4" stroke="#777" stroke-width="1"/>
<text x="18.8" y="22.6" font-size="14.2" class="dc" fill="#3a3a3a" stroke="#3a3a3a" stroke-width="0.3" textLength="80" lengthAdjust="spacingAndGlyphs">EUR/USD, D,</text>
<path d="M103.8 15.8h5.9l-2.95 2.8z" fill="#97979d"/>
<rect x="118.2" y="11" width="11.5" height="11.5" fill="#d0d0d0"/>
<path d="M119.4 16.8C121 13.6 122.6 13.1 124 13.1S127 13.6 128.6 16.8C127 20 125.4 20.5 124 20.5S121 20 119.4 16.8Z" fill="#fff"/><circle cx="124" cy="16.8" r="2.3" fill="#d0d0d0"/><circle cx="124" cy="16.8" r="1" fill="#e6e6e6"/>
<rect x="132.5" y="11" width="11.3" height="11.5" fill="#d0d0d0"/>
<path d="M141.13 15.76L142.53 16.03L142.53 17.57L141.13 17.84L140.97 18.21L141.78 19.39L140.69 20.48L139.51 19.67L139.14 19.83L138.87 21.23L137.33 21.23L137.06 19.83L136.69 19.67L135.51 20.48L134.42 19.39L135.23 18.21L135.07 17.84L133.67 17.57L133.67 16.03L135.07 15.76L135.23 15.39L134.42 14.21L135.51 13.12L136.69 13.93L137.06 13.77L137.33 12.37L138.87 12.37L139.14 13.77L139.51 13.93L140.69 13.12L141.78 14.21L140.97 15.39Z" fill="#fff"/><circle cx="138.1" cy="16.8" r="1.8" fill="#cfcfcf"/>
</svg></body></html>
